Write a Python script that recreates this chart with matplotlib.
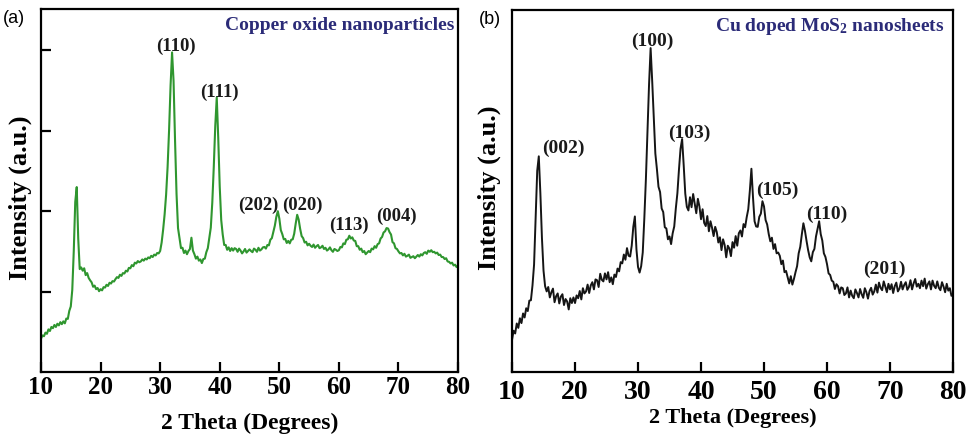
import numpy as np
import matplotlib
matplotlib.use("Agg")
import matplotlib.pyplot as plt

# ── Data (2θ sampled every 0.25° from 10° to 80°) ─────────────────────────────
CUO_COUNTS = [
    8.3, 9.1, 8.9, 9.8, 9.5, 10.6, 10.2, 11.2, 10.9, 11.7,
    11.2, 12.0, 11.6, 12.4, 11.9, 12.6, 12.1, 13.3, 13.2, 15.2,
    16.3, 20.4, 30.0, 42.3, 46.0, 33.2, 25.6, 26.0, 25.2, 25.8,
    24.1, 24.6, 23.4, 22.8, 22.3, 21.2, 21.5, 20.6, 20.9, 20.1,
    20.6, 20.3, 21.1, 21.0, 21.7, 21.4, 22.2, 22.0, 22.6, 22.5,
    23.1, 23.6, 23.4, 24.2, 23.9, 24.6, 24.5, 25.2, 25.0, 25.9,
    25.8, 26.6, 26.3, 27.2, 27.0, 27.6, 27.3, 27.5, 28.0, 27.7,
    28.2, 28.0, 28.5, 28.3, 28.9, 28.6, 29.2, 29.0, 29.6, 29.5,
    30.1, 32.2, 35.4, 39.2, 44.1, 51.0, 60.2, 71.3, 79.5, 72.4,
    57.6, 44.3, 35.8, 33.3, 30.8, 30.9, 29.6, 30.2, 29.3, 30.1,
    30.6, 33.4, 30.2, 29.3, 28.2, 28.7, 27.7, 28.0, 27.1, 28.1,
    28.2, 29.8, 30.8, 33.3, 35.9, 42.1, 51.0, 61.2, 68.3, 58.2,
    46.1, 37.8, 34.2, 31.6, 31.6, 30.4, 31.0, 30.1, 30.8, 30.2,
    30.8, 30.6, 29.9, 30.7, 30.2, 29.5, 30.0, 30.6, 29.7, 30.1,
    30.5, 30.1, 29.8, 30.7, 30.4, 29.9, 30.9, 30.2, 30.5, 31.0,
    31.1, 30.7, 31.6, 31.5, 32.9, 33.3, 34.8, 36.4, 38.6, 40.0,
    38.2, 35.3, 34.3, 33.0, 33.1, 32.1, 32.6, 32.0, 32.9, 33.0,
    34.4, 36.9, 39.1, 37.9, 35.6, 33.8, 33.3, 32.2, 32.4, 31.5,
    31.9, 31.4, 31.1, 31.7, 30.9, 31.3, 31.6, 30.8, 31.0, 31.4,
    30.6, 30.9, 30.2, 30.5, 31.0, 30.3, 29.9, 30.6, 30.4, 30.1,
    30.3, 31.1, 31.0, 32.0, 31.8, 32.9, 33.0, 33.9, 33.2, 33.5,
    32.7, 32.6, 31.3, 31.3, 30.4, 30.7, 29.8, 30.1, 29.3, 29.7,
    30.1, 29.8, 30.7, 30.5, 31.3, 30.9, 31.8, 32.0, 33.2, 33.6,
    34.7, 35.0, 35.8, 35.7, 34.8, 34.2, 32.3, 32.0, 30.8, 30.6,
    30.0, 29.5, 29.6, 29.0, 29.4, 28.7, 28.9, 29.2, 28.4, 28.6,
    28.8, 28.3, 28.7, 29.1, 28.7, 29.3, 29.0, 29.6, 29.8, 29.4,
    30.2, 29.9, 30.3, 29.8, 29.9, 29.5, 29.7, 29.1, 29.2, 28.6,
    28.6, 28.1, 28.3, 27.5, 27.4, 27.0, 27.2, 26.5, 26.7, 26.1,
    26.5,
]

CU_MOS2_COUNTS = [
    8.0, 10.3, 9.6, 12.1, 11.0, 13.4, 12.2, 14.6, 13.6, 15.9,
    15.2, 17.8, 17.9, 21.6, 26.8, 38.3, 50.2, 53.8, 44.6, 33.4,
    25.3, 21.4, 20.1, 21.2, 18.6, 19.9, 20.8, 17.4, 18.9, 19.6,
    17.1, 18.8, 19.4, 16.7, 18.2, 17.6, 15.6, 18.4, 17.2, 18.6,
    17.2, 19.1, 18.4, 20.2, 18.1, 20.9, 19.6, 20.1, 21.8, 19.7,
    21.6, 22.4, 20.6, 23.1, 22.9, 21.2, 24.5, 23.0, 22.6, 24.6,
    23.1, 24.9, 22.4, 23.6, 21.9, 24.3, 23.7, 25.8, 25.1, 27.4,
    27.1, 29.3, 28.0, 30.9, 29.0, 28.8, 31.5, 36.2, 38.8, 30.6,
    26.2, 24.8, 26.4, 29.8, 38.3, 48.1, 60.2, 71.7, 80.8, 72.6,
    63.4, 54.5, 50.6, 46.2, 44.9, 40.8, 39.9, 36.1, 35.8, 33.1,
    33.8, 31.9, 34.6, 36.3, 40.8, 44.6, 50.5, 55.7, 58.1, 51.6,
    44.5, 41.2, 40.3, 43.6, 41.1, 44.4, 42.0, 39.6, 43.2, 41.3,
    38.1, 40.6, 37.2, 36.4, 38.9, 35.1, 37.6, 36.0, 33.9, 36.2,
    34.9, 32.3, 33.6, 30.4, 33.1, 31.7, 28.6, 31.5, 30.8, 28.9,
    32.4, 31.0, 33.9, 31.5, 34.6, 35.3, 33.8, 36.9, 36.1, 38.6,
    40.6, 45.2, 50.7, 43.6, 37.6, 36.3, 36.2, 38.7, 39.5, 42.6,
    41.3, 37.9, 36.8, 34.4, 32.6, 33.5, 30.7, 31.9, 29.6, 29.8,
    29.0, 26.9, 27.8, 24.9, 25.2, 23.6, 22.1, 23.9, 21.8, 23.2,
    24.9, 26.4, 29.6, 31.2, 34.3, 37.1, 35.2, 32.7, 30.4, 28.6,
    27.6, 29.9, 30.7, 33.8, 35.7, 37.6, 34.4, 32.8, 29.6, 28.7,
    26.9, 24.6, 24.2, 22.8, 22.5, 20.7, 21.9, 21.4, 19.6, 21.1,
    20.9, 19.2, 19.6, 21.1, 18.6, 20.3, 19.0, 18.4, 20.6, 19.7,
    18.6, 20.7, 19.4, 18.5, 20.9, 19.9, 18.3, 20.2, 21.0, 19.3,
    20.1, 21.8, 19.8, 22.3, 21.0, 20.4, 22.6, 21.3, 19.9, 22.0,
    20.6, 21.9, 19.7, 21.4, 22.3, 20.1, 20.8, 22.5, 20.6, 21.7,
    22.4, 20.5, 21.2, 22.9, 20.6, 22.1, 23.2, 21.3, 22.0, 20.9,
    22.8, 21.4, 23.3, 20.8, 21.9, 22.6, 20.6, 22.8, 21.5, 20.9,
    22.6, 21.0, 20.4, 22.4, 21.3, 19.9, 22.0, 20.3, 20.9, 19.0,
    19.5,
]

# Miller indices and where their labels sit (2θ, intensity)
CUO_HKL   = ["(110)", "(111)", "(202)", "(020)", "(113)", "(004)"]
CUO_HKL_X = [32.6, 40.0, 46.4, 53.8, 61.7, 69.6]
CUO_HKL_Y = [81.0, 69.5, 41.5, 41.5, 36.6, 38.7]

MOS2_HKL   = ["(002)", "(100)", "(103)", "(105)", "(110)", "(201)"]
MOS2_HKL_X = [18.1, 32.2, 38.2, 52.1, 59.9, 69.1]
MOS2_HKL_Y = [55.8, 82.5, 59.6, 45.4, 39.4, 25.5]

X_TICKS = [10, 20, 30, 40, 50, 60, 70, 80]
Y_TICKS_A = [20, 40, 60, 80]

# ── Style ─────────────────────────────────────────────────────────────────────
GREEN = "#2f962f"
BLACK = "#151515"
NAVY  = "#2b2b78"
SERIF = "Liberation Serif"
SANS  = "Liberation Sans"

plt.rcParams.update({
    "font.family"        : SERIF,
    "font.weight"        : "bold",
    "mathtext.fontset"   : "custom",
    "mathtext.rm"        : "Liberation Serif:bold",
    "mathtext.bf"        : "Liberation Serif:bold",
    "mathtext.default"   : "bf",
    "axes.linewidth"     : 1.6,
})

fig = plt.figure(figsize=(9.69, 4.36), dpi=100, facecolor="white")
ax_a = fig.add_axes([0.0423, 0.1468, 0.4304, 0.8326])
ax_b = fig.add_axes([0.5284, 0.1468, 0.4551, 0.8303])


def draw_panel(ax, counts, color, lw, tick_size, pad):
    theta = np.linspace(10, 80, len(counts))
    ax.plot(theta, counts, color=color, linewidth=lw)
    ax.set_xlim(10, 80)
    ax.set_ylim(0, 90.3)
    ax.set_xticks(X_TICKS)
    ax.tick_params(axis="x", direction="in", length=7, width=1.6,
                   labelsize=tick_size, pad=pad)
    for lab in ax.get_xticklabels():
        lab.set_fontweight("bold")


def label_peaks(ax, names, xs, ys, size):
    for name, x, y in zip(names, xs, ys):
        ax.text(x, y, name, ha="center", va="center", fontsize=size,
                fontweight="bold", color="#1a1a1a")


# ── (a) Copper oxide ──────────────────────────────────────────────────────────
draw_panel(ax_a, CUO_COUNTS, GREEN, 1.5, 18, 3)
ax_a.set_yticks(Y_TICKS_A)
ax_a.set_yticklabels([])
ax_a.tick_params(axis="y", direction="in", length=7, width=1.6)
label_peaks(ax_a, CUO_HKL, CUO_HKL_X, CUO_HKL_Y, 13.5)
ax_a.text(0.99, 0.955, "Copper oxide nanoparticles", transform=ax_a.transAxes,
          ha="right", va="center", fontsize=14, fontweight="bold", color=NAVY)
ax_a.set_xlabel("2 Theta (Degrees)", fontsize=17, fontweight="bold", labelpad=10)
ax_a.set_ylabel("Intensity (a.u.)", fontsize=19, fontweight="bold")
ax_a.yaxis.set_label_coords(-0.022, 0.48)

# ── (b) Cu doped MoS2 ─────────────────────────────────────────────────────────
draw_panel(ax_b, CU_MOS2_COUNTS, BLACK, 1.4, 20, 6)
ax_b.set_yticks([])
label_peaks(ax_b, MOS2_HKL, MOS2_HKL_X, MOS2_HKL_Y, 14)
ax_b.text(0.98, 0.955, r"Cu doped MoS$_{2}$ nanosheets", transform=ax_b.transAxes,
          ha="right", va="center", fontsize=14, fontweight="bold", color=NAVY)
ax_b.set_xlabel("2 Theta (Degrees)", fontsize=16, fontweight="bold", labelpad=2)
ax_b.set_ylabel("Intensity (a.u.)", fontsize=19, fontweight="bold")
ax_b.yaxis.set_label_coords(-0.024, 0.51)

# panel letters
fig.text(0.003, 0.958, "(a)", fontsize=13, family=SANS, fontweight="normal",
         va="center", ha="left")
fig.text(0.494, 0.955, "(b)", fontsize=13, family=SANS, fontweight="normal",
         va="center", ha="left")

fig.savefig("out.png", dpi=100, facecolor="white")
